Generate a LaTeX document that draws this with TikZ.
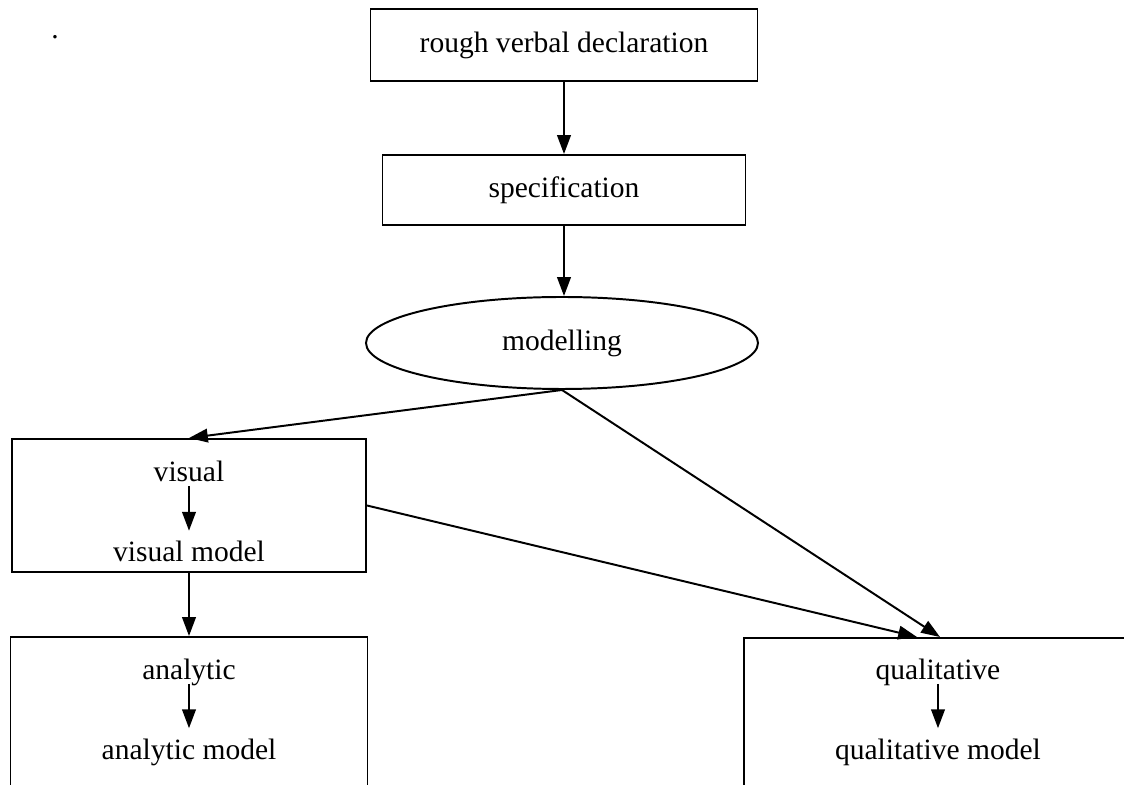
\documentclass[tikz,border=0pt]{standalone}
\usepackage{fontspec}
\setmainfont{Liberation Serif}
\usepackage{tikz}
\usetikzlibrary{calc}
\usetikzlibrary{arrows.meta,shapes.geometric}

\begin{document}
\begin{tikzpicture}[
  every node/.style={font=\fontsize{21}{25}\selectfont},
  box/.style={draw,line width=1.4pt,rectangle,inner sep=0pt},
  oval/.style={draw,line width=1.4pt,ellipse,inner sep=0pt},
  lbl/.style={inner sep=0pt,minimum height=0.875cm,text height=0.75cm,text depth=0.075cm},
  edge/.style={line width=1.4pt,-{Triangle[length=0.47cm,width=0.34cm]}}
]
\useasboundingbox (0,0) rectangle (28.1,19.625);
\clip (0,0) rectangle (28.1,19.625);

% Stray dot
\node[inner sep=0pt,anchor=base] (dot) at (1.375,18.66) {.};

% Top chain
\node[box,minimum width=9.675cm,minimum height=1.8cm] (rough) at (14.1,18.5) {rough verbal declaration};
\node[box,minimum width=9.075cm,minimum height=1.75cm] (spec) at (14.1,14.875) {specification};
\node[oval,minimum width=9.8cm,minimum height=2.3cm] (modelling) at (14.05,11.05) {modelling};
\draw[edge] (rough) -- (spec);
\draw[edge] (spec) -- (spec |- modelling.north);

% Visual cluster
\node[box,minimum width=8.85cm,minimum height=3.325cm] (visualbox) at (4.725,6.9875) {};
\node[lbl] (visual) at (4.725,7.9125) {visual};
\node[lbl] (visualmodel) at (4.725,5.9125) {visual model};
\draw[edge] (visual) -- (visualmodel);

% Analytic cluster (runs off the bottom)
\node[box,minimum width=8.925cm,minimum height=5cm] (analyticbox) at (4.725,1.2) {};
\node[lbl] (analytic) at (4.725,2.975) {analytic};
\node[lbl] (analyticmodel) at (4.725,0.975) {analytic model};
\draw[edge] (analytic) -- (analyticmodel);

% Qualitative cluster (runs off the bottom and right)
\node[box,minimum width=9.8cm,minimum height=5cm] (qualbox) at (23.5,1.175) {};
\node[lbl] (qual) at (23.45,2.975) {qualitative};
\node[lbl] (qualmodel) at (23.45,0.975) {qualitative model};
\draw[edge] (qual) -- (qualmodel);
\coordinate (qualentry) at ($(qualbox.north)+(-0.575,0)$);

% Links between clusters
\draw[edge] (modelling.south) -- (visualbox.north);
\draw[edge] (modelling.south) -- (qualbox.north);
\draw[edge] (visualbox.east) -- (qualentry);
\draw[edge] (visualbox.south) -- (analyticbox.north);
\end{tikzpicture}
\end{document}
